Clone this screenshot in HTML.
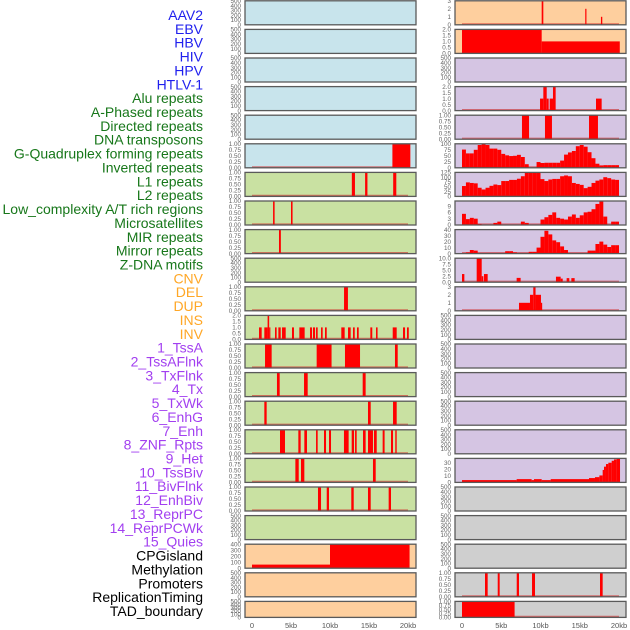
<!DOCTYPE html>
<html><head><meta charset="utf-8"><style>
body{margin:0;background:#fff;}
svg{display:block;font-family:"Liberation Sans",sans-serif;}
</style></head><body>
<svg id="chart" width="630" height="630" viewBox="0 0 630 630" xmlns="http://www.w3.org/2000/svg"></svg>
<script>
// ---- labels ----
const labels = ["AAV2","EBV","HBV","HIV","HPV","HTLV-1","Alu repeats","A-Phased repeats","Directed repeats","DNA transposons","G-Quadruplex forming repeats","Inverted repeats","L1 repeats","L2 repeats","Low_complexity A/T rich regions","Microsatellites","MIR repeats","Mirror repeats","Z-DNA motifs","CNV","DEL","DUP","INS","INV","1_TssA","2_TssAFlnk","3_TxFlnk","4_Tx","5_TxWk","6_EnhG","7_Enh","8_ZNF_Rpts","9_Het","10_TssBiv","11_BivFlnk","12_EnhBiv","13_ReprPC","14_ReprPCWk","15_Quies","CPGisland","Methylation","Promoters","ReplicationTiming","TAD_boundary"];
const labelGroups = ["v","v","v","v","v","v","r","r","r","r","r","r","r","r","r","r","r","r","r","s","s","s","s","s","c","c","c","c","c","c","c","c","c","c","c","c","c","c","c","o","o","o","o","o"];
// ---- x axis ----
const xTicks = [0,5,10,15,20];
const xTickLabels = ["0","5kb","10kb","15kb","20kb"];
// ---- tick sets ----
const tEmpty = [0,100,200,300,400,500];
const tEmptyL = ["0","100","200","300","400","500"];
const tUnit = [0,0.25,0.5,0.75,1];
const tUnitL = ["0.00","0.25","0.50","0.75","1.00"];
const tTwo = [0,0.5,1,1.5,2];
const tTwoL = ["0.0","0.5","1.0","1.5","2.0"];
const tThree = [0,1,2,3];
const tThreeL = ["0","1","2","3"];
const tPct = [0,25,50,75,100];
const tPctL = ["0","25","50","75","100"];
const tL1 = [0,25,50,75,100,125];
const tL1L = ["0","25","50","75","100","125"];
const tL2 = [0,3,6,9];
const tL2L = ["0","3","6","9"];
const tMicro = [0,10,20,30,40];
const tMicroL = ["0","10","20","30","40"];
const tZ = [0,2.5,5,7.5,10];
const tZL = ["0.0","2.5","5.0","7.5","10.0"];
const tHet = [0,10,20,30];
const tHetL = ["0","10","20","30"];
const tCpg = [0,100,200,300,400];
const tCpgL = ["0","100","200","300","400"];
// ---- left column segment data [startKb,endKb,value] ----
const L5 = [[18.0,20.3,1]];
const L6 = [[12.8,13.2,1],[14.5,14.8,1],[18.1,18.5,1]];
const L7 = [[2.7,2.9,1],[5.0,5.2,1]];
const L8 = [[3.46,3.7,1]];
const L10 = [[11.8,12.3,1]];
const L11 = [[0.9,1.24,1],[1.58,2.0,1],[2.0,2.2,2],[2.2,2.31,1],[2.95,3.16,1],[3.38,3.68,1],[3.85,4.32,1],[5.13,5.38,1],[6.07,6.75,1],[7.44,7.69,1],[7.82,8.08,1],[8.21,8.42,1],[8.85,9.06,1],[9.36,9.58,1],[11.45,11.88,1],[12.31,12.65,1],[12.95,13.17,1],[13.46,13.68,1],[15.17,15.42,1],[15.9,16.1,1],[18.04,18.55,1],[19.36,19.62,1],[19.87,20.1,1]];
const L12 = [[1.67,2.52,1],[8.29,10.2,1],[11.92,13.85,1],[18.33,18.68,1]];
const L13 = [[3.2,3.55,1],[6.67,7.14,1],[14.19,14.57,1]];
const L14 = [[1.58,1.88,1],[14.87,15.22,1],[18.08,18.55,1]];
const L15 = [[3.59,4.23,1],[5.94,6.24,1],[6.71,7.05,1],[8.21,8.42,1],[9.23,9.49,1],[9.87,10.13,1],[11.79,12.39,1],[12.78,13.08,1],[13.21,13.42,1],[14.23,14.57,1],[14.87,15.51,1],[15.64,15.99,1],[16.75,17.0,1],[17.82,18.08,1],[18.37,18.55,1]];
const L16 = [[5.56,5.99,1],[6.28,6.71,1],[15.51,15.86,1]];
const L17 = [[8.46,8.85,1],[9.58,9.87,1],[12.73,13.04,1],[14.87,15.22,1],[17.52,17.82,1]];
const L19 = [[0,10,60],[10,20.2,400]];
// ---- right column data ----
const R0 = [[10.15,10.36,3],[15.7,15.84,2],[17.7,17.87,1]];
const R1 = [[0,10.15,2],[10.15,20.1,1]];
const R3 = [[9.94,10.36,1],[10.36,10.79,2],[10.79,11.04,1],[11.17,11.59,1],[11.59,11.93,2],[17.07,17.79,1]];
const R4 = [[7.64,8.54,1],[10.57,11.46,1],[16.18,17.32,1]];
// 0.5kb bin profiles
const R5bins = [76,60,60,75,95,100,95,80,80,75,58,52,49,50,54,45,15,0,0,24,20,21,21,21,21,30,55,64,70,90,95,88,65,40,17,10,11,11,11,11];
const R6bins = [54,73,70,68,45,36,45,55,62,59,80,80,86,86,92,105,125,125,125,125,90,80,88,91,91,105,109,105,70,65,60,43,50,70,82,88,100,95,88,86];
const R7bins = [5.3,2.8,3.4,3,0.5,0,0,0,1,1.6,0,0,0,0,0,1.6,1,0,0,0,2.6,3.7,4.8,6,3.4,3,2.6,4,5,3.4,4.6,6,6.3,7.5,10,11.4,4,0,1.6,1.6];
const R8bins = [1,2,6,5,0,0,0,0,0,0,0,4,4,2,0,0,0,3,3,10,28,38,32,22,19,12,6,1,0,0,0,0,5,5,16,20,15,11,14,14];
const R9 = [[0,0.3,3.4],[1.87,2.51,10],[2.51,2.72,2.5],[2.8,3.27,3.4],[6.96,7.47,1.8],[11.97,12.57,2.3],[12.57,12.83,1.5],[13.33,13.67,1.7],[13.93,14.35,1.7]];
const R10 = [[7.26,8.66,1],[8.66,9.08,2],[9.08,9.37,3],[9.37,10.06,2],[10.06,10.19,1]];
const R16 = [[0,6.96,3.5],[6.96,8.87,5],[8.87,9.17,3.5],[9.17,10.15,5],[10.15,11.3,3.5],[11.3,16.18,5],[16.18,16.94,6.6],[16.94,17.5,8],[17.5,17.92,10.6],[17.92,18.09,19],[18.09,18.34,24],[18.34,18.64,28],[18.64,19.07,30],[19.07,19.36,33],[19.36,19.7,35],[19.7,20.13,36.6]];
const R20 = [[2.93,3.27,1],[4.55,4.8,1],[6.97,7.26,1],[8.92,9.3,1],[17.58,17.92,1]];
const R21 = [[0,6.7,1]];

const NS="http://www.w3.org/2000/svg";
const svg=document.getElementById('chart');
function mk(tag,attrs,parent){const e=document.createElementNS(NS,tag);for(const k in attrs)e.setAttribute(k,attrs[k]);(parent||svg).appendChild(e);return e;}
function bins2seg(b){return b.map((v,i)=>[i*0.5,i*0.5+0.5,v]);}

const groupColor={v:"#2020ee",r:"#17771a",s:"#ffa726",c:"#a23ff0",o:"#000"};
labels.forEach((t,i)=>{
  const e=mk('text',{x:203,y:20+13.86*i,'text-anchor':'end','font-size':'14',fill:groupColor[labelGroups[i]]});
  e.textContent=t;
  
  
});

const BG={b:"#c8e4ec",g:"#c9e1a2",p:"#fecf9e",u:"#d5c5e3",k:"#cfcfcf"};
const left=[
 ['b',null,tEmpty,tEmptyL,500],['b',null,tEmpty,tEmptyL,500],['b',null,tEmpty,tEmptyL,500],['b',null,tEmpty,tEmptyL,500],['b',null,tEmpty,tEmptyL,500],
 ['b',L5,tUnit,tUnitL,1],['g',L6,tUnit,tUnitL,1],['g',L7,tUnit,tUnitL,1],['g',L8,tUnit,tUnitL,1],['g',null,tEmpty,tEmptyL,500],
 ['g',L10,tUnit,tUnitL,1],['g',L11,tTwo,tTwoL,2],['g',L12,tUnit,tUnitL,1],['g',L13,tUnit,tUnitL,1],['g',L14,tUnit,tUnitL,1],
 ['g',L15,tUnit,tUnitL,1],['g',L16,tUnit,tUnitL,1],['g',L17,tUnit,tUnitL,1],['g',null,tEmpty,tEmptyL,500],['p',L19,tCpg,tCpgL,400],
 ['p',null,tEmpty,tEmptyL,500],['p',null,tEmpty,tEmptyL,500]];
const right=[
 ['p',R0,tThree,tThreeL,3],['p',R1,tTwo,tTwoL,2],['u',null,tEmpty,tEmptyL,500],['u',R3,tTwo,tTwoL,2],['u',R4,tUnit,tUnitL,1],
 ['u',bins2seg(R5bins),tPct,tPctL,100],['u',bins2seg(R6bins),tL1,tL1L,125],['u',bins2seg(R7bins),tL2,tL2L,11.4],['u',bins2seg(R8bins),tMicro,tMicroL,40],['u',R9,tZ,tZL,10],
 ['u',R10,tThree,tThreeL,3],['u',null,tEmpty,tEmptyL,500],['u',null,tEmpty,tEmptyL,500],['u',null,tEmpty,tEmptyL,500],['u',null,tEmpty,tEmptyL,500],
 ['u',null,tEmpty,tEmptyL,500],['u',R16,tHet,tHetL,36.6],['k',null,tEmpty,tEmptyL,500],['k',null,tEmpty,tEmptyL,500],['k',null,tEmpty,tEmptyL,500],
 ['k',R20,tUnit,tUnitL,1],['k',R21,tUnit,tUnitL,1]];

function drawCol(cfg,x0,x1,zeroX,pxPerKb,col){
  const xs=k=>zeroX+k*pxPerKb;
  cfg.forEach((p,i)=>{
    const top=0.8+28.6*i, h=(i===21)?16:24, bot=top+h;
    const g=mk('g',{});
    
    
    const r=mk('rect',{x:x0,y:top,width:x1-x0,height:h,fill:BG[p[0]]},g);
    
    
    const ymax=p[4];
    const ys=v=>bot-Math.min(v,ymax)/ymax*h;
    if(p[1]){
      const bl=mk('line',{x1:xs(0),x2:xs(20),y1:bot-0.8,y2:bot-0.8,stroke:"rgba(210,40,40,0.6)","stroke-width":1.6},g);
      
      
      p[1].forEach(s=>{
        if(s[2]<=0)return;
        const b=mk('rect',{x:xs(s[0]),y:ys(s[2]),width:Math.max(1.2,xs(s[1])-xs(s[0])),height:bot-ys(s[2]),fill:"#ff0000"},g);
        
        
      });
    }
    const fr=mk('rect',{x:x0,y:top,width:x1-x0,height:h,fill:"none",stroke:"#5a5a5a","stroke-width":1.3},g);
    
    
    p[2].forEach((t,j)=>{
      const tx=mk('text',{x:x0-4,y:ys(t)+2.2,'text-anchor':'end','font-size':'6.3',fill:"#666"},g);
      tx.textContent=p[3][j];
      
      
    });
  });
  xTicks.forEach((t,j)=>{
    const tx=mk('text',{x:xs(t),y:628,'text-anchor':'middle','font-size':'7.5',fill:"#555"});
    tx.textContent=xTickLabels[j];
    
    
  });
}
drawCol(left,245,416,252,7.8,'left');
drawCol(right,455,626,462,7.85,'right');
</script>
</body></html>
